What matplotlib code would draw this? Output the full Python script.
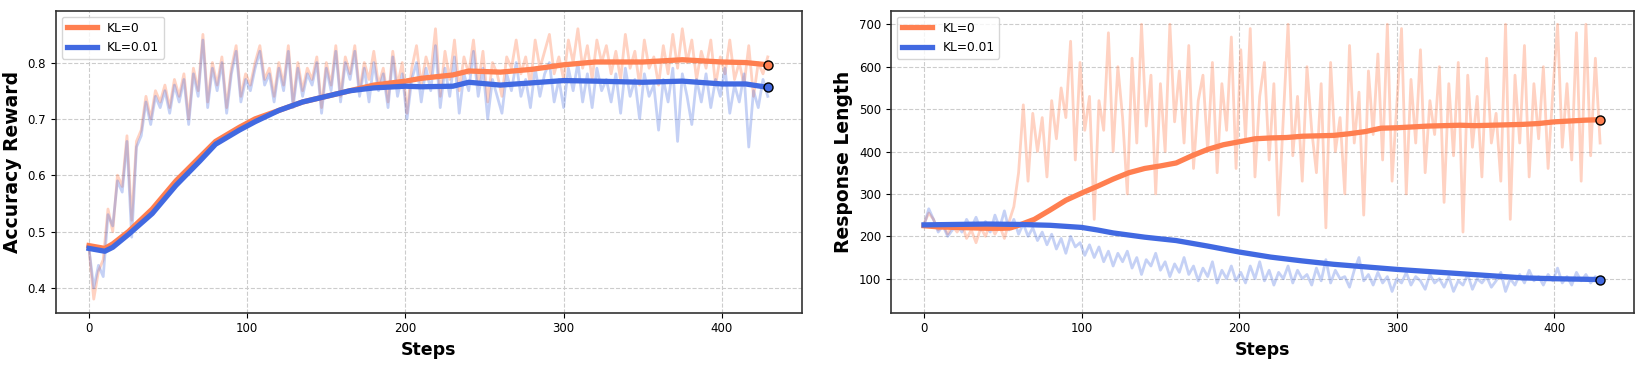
import numpy as np
import matplotlib.pyplot as plt

# raw values, one every 3 steps
acc_kl0 = [0.47, 0.38, 0.43, 0.45, 0.54, 0.50, 0.60, 0.58, 0.67, 0.52, 0.66, 0.68, 0.74, 0.70, 0.75, 0.73,
           0.76, 0.72, 0.77, 0.74, 0.78, 0.70, 0.79, 0.75, 0.85, 0.73, 0.80, 0.76, 0.81, 0.72, 0.79, 0.83,
           0.74, 0.78, 0.76, 0.80, 0.83, 0.77, 0.79, 0.74, 0.80, 0.76, 0.83, 0.73, 0.80, 0.75, 0.79, 0.77,
           0.81, 0.72, 0.80, 0.76, 0.83, 0.74, 0.81, 0.78, 0.83, 0.75, 0.80, 0.77, 0.82, 0.76, 0.79, 0.73,
           0.82, 0.76, 0.80, 0.71, 0.79, 0.83, 0.76, 0.81, 0.78, 0.86, 0.74, 0.82, 0.77, 0.84, 0.75, 0.81,
           0.78, 0.84, 0.76, 0.82, 0.73, 0.80, 0.78, 0.74, 0.81, 0.79, 0.84, 0.78, 0.81, 0.76, 0.84, 0.79,
           0.82, 0.85, 0.78, 0.81, 0.77, 0.84, 0.80, 0.86, 0.79, 0.83, 0.77, 0.84, 0.80, 0.83, 0.78, 0.82,
           0.77, 0.85, 0.79, 0.82, 0.76, 0.84, 0.79, 0.81, 0.76, 0.83, 0.78, 0.85, 0.79, 0.86, 0.80, 0.84,
           0.77, 0.82, 0.79, 0.84, 0.76, 0.81, 0.78, 0.84, 0.77, 0.80, 0.76, 0.83, 0.74, 0.80, 0.78, 0.81]
acc_kl001 = [0.47, 0.40, 0.44, 0.42, 0.53, 0.51, 0.59, 0.57, 0.66, 0.49, 0.65, 0.67, 0.73, 0.69, 0.74, 0.72,
             0.75, 0.71, 0.76, 0.73, 0.77, 0.69, 0.78, 0.74, 0.84, 0.72, 0.79, 0.75, 0.80, 0.71, 0.78, 0.82,
             0.73, 0.77, 0.75, 0.79, 0.82, 0.76, 0.78, 0.73, 0.79, 0.75, 0.82, 0.72, 0.79, 0.74, 0.78, 0.76,
             0.80, 0.71, 0.79, 0.75, 0.82, 0.73, 0.80, 0.77, 0.82, 0.74, 0.79, 0.73, 0.80, 0.75, 0.78, 0.72,
             0.81, 0.74, 0.78, 0.70, 0.77, 0.80, 0.73, 0.79, 0.75, 0.83, 0.72, 0.79, 0.74, 0.81, 0.71, 0.78,
             0.75, 0.82, 0.74, 0.79, 0.70, 0.77, 0.74, 0.71, 0.78, 0.75, 0.80, 0.74, 0.77, 0.72, 0.79, 0.74,
             0.78, 0.80, 0.73, 0.77, 0.72, 0.79, 0.75, 0.80, 0.73, 0.78, 0.72, 0.79, 0.75, 0.77, 0.73, 0.78,
             0.71, 0.79, 0.74, 0.77, 0.70, 0.78, 0.74, 0.76, 0.68, 0.77, 0.73, 0.79, 0.66, 0.78, 0.74, 0.69,
             0.77, 0.73, 0.78, 0.72, 0.77, 0.74, 0.79, 0.71, 0.76, 0.73, 0.78, 0.65, 0.75, 0.72, 0.77, 0.74]
len_kl0 = [230, 255, 240, 215, 230, 205, 225, 210, 230, 195, 215, 185, 220, 200, 230, 205,
           225, 195, 235, 270, 350, 510, 330, 490, 400, 480, 340, 520, 430, 550, 480, 660,
           380, 610, 450, 530, 240, 520, 450, 680, 400, 600, 480, 300, 620, 420, 700, 460,
           580, 300, 560, 400, 700, 470, 590, 420, 650, 360, 520, 580, 400, 610, 350, 560,
           450, 670, 360, 640, 430, 690, 340, 530, 610, 380, 560, 250, 480, 700, 390, 530,
           330, 600, 450, 350, 560, 220, 610, 400, 480, 300, 650, 420, 540, 250, 590, 440,
           630, 380, 700, 330, 510, 690, 300, 570, 420, 640, 350, 520, 440, 600, 280, 560,
           390, 610, 210, 580, 410, 530, 340, 620, 420, 490, 330, 700, 240, 580, 420, 650,
           340, 560, 430, 600, 360, 540, 700, 410, 560, 380, 680, 330, 700, 390, 620, 420]
len_kl001 = [225, 265, 240, 210, 225, 200, 215, 230, 210, 240, 220, 245, 215, 235, 210, 250,
             220, 260, 215, 240, 205, 230, 200, 220, 190, 210, 180, 205, 170, 195, 160, 200,
             175, 185, 155, 180, 150, 175, 140, 165, 130, 160, 140, 165, 125, 150, 110, 145,
             130, 160, 120, 140, 105, 135, 115, 150, 110, 130, 95, 125, 105, 140, 90, 120,
             100, 130, 95, 115, 90, 130, 100, 140, 95, 120, 85, 115, 100, 130, 90, 120,
             100, 110, 85, 125, 95, 145, 90, 120, 100, 105, 80, 120, 150, 95, 110, 85,
             115, 90, 105, 70, 100, 90, 115, 85, 105, 95, 75, 110, 90, 100, 80, 105,
             70, 95, 85, 110, 75, 100, 90, 105, 80, 95, 115, 70, 100, 85, 110, 90,
             120, 95, 105, 85, 110, 95, 125, 90, 105, 85, 115, 95, 110, 90, 105, 95]

# smoothed curves (step, value)
acc_s_steps = [0, 10, 15, 25, 40, 55, 70, 80, 95, 105, 120, 135, 150, 165, 180, 200, 210, 230, 240,
               260, 280, 300, 320, 350, 375, 400, 415, 429]
acc_s_kl0 = [0.475, 0.470, 0.478, 0.500, 0.540, 0.590, 0.632, 0.660, 0.685, 0.700, 0.715, 0.730, 0.740,
             0.750, 0.760, 0.767, 0.772, 0.778, 0.785, 0.783, 0.788, 0.796, 0.801, 0.801, 0.805, 0.801,
             0.800, 0.796]
acc_s_kl001 = [0.470, 0.465, 0.472, 0.495, 0.532, 0.582, 0.625, 0.655, 0.680, 0.695, 0.715, 0.730, 0.740,
               0.750, 0.755, 0.758, 0.757, 0.758, 0.765, 0.760, 0.764, 0.768, 0.767, 0.765, 0.767, 0.762,
               0.762, 0.756]
len_s_steps0 = [0, 10, 20, 30, 40, 50, 55, 60, 70, 80, 90, 100, 110, 120, 130, 140, 150, 160, 170, 180,
                190, 200, 210, 220, 230, 240, 250, 260, 270, 280, 290, 300, 310, 320, 330, 340, 350, 360,
                370, 380, 390, 400, 410, 420, 429]
len_s_kl0 = [225, 222, 221, 220, 219, 219, 220, 226, 240, 262, 285, 302, 318, 335, 350, 360, 366, 373,
             390, 405, 416, 423, 430, 432, 433, 436, 437, 438, 442, 447, 455, 456, 458, 460, 461, 462,
             461, 462, 463, 464, 466, 470, 472, 474, 475]
len_s_steps1 = [0, 20, 40, 60, 80, 100, 110, 120, 140, 160, 180, 200, 220, 240, 260, 280, 300, 320, 340,
                360, 380, 400, 415, 429]
len_s_kl001 = [227, 228, 229, 228, 226, 221, 215, 208, 198, 190, 177, 163, 151, 142, 134, 128, 122, 117,
               112, 107, 102, 100, 99, 98]

orange = '#FF7F50'
blue = '#4169E1'

fig = plt.figure(figsize=(16.45, 3.7), dpi=100)
ax1 = fig.add_axes([0.0339, 0.155, 0.4535, 0.816])
ax2 = fig.add_axes([0.5416, 0.155, 0.4517, 0.816])

panels = [
    (ax1, acc_kl0, acc_kl001, acc_s_steps, acc_s_kl0, acc_s_steps, acc_s_kl001, 'Accuracy Reward', (0.356, 0.892)),
    (ax2, len_kl0, len_kl001, len_s_steps0, len_s_kl0, len_s_steps1, len_s_kl001, 'Response Length', (20, 732)),
]

for ax, raw0, raw1, s0x, s0y, s1x, s1y, ylab, ylim in panels:
    ax.plot(np.arange(len(raw0)) * 3, raw0, color=orange, alpha=0.35, linewidth=2)
    ax.plot(np.arange(len(raw1)) * 3, raw1, color=blue, alpha=0.3, linewidth=2)
    ax.plot(s0x, s0y, color=orange, linewidth=3.8, label='KL=0')
    ax.plot(s1x, s1y, color=blue, linewidth=3.8, label='KL=0.01')
    ax.plot(s0x[-1], s0y[-1], 'o', color=orange, markeredgecolor='black', markersize=6.5)
    ax.plot(s1x[-1], s1y[-1], 'o', color=blue, markeredgecolor='black', markersize=6.5)
    ax.set_xlim(-21, 450.5)
    ax.set_ylim(*ylim)
    ax.set_xticks([0, 100, 200, 300, 400])
    ax.grid(True, linestyle='--', color='#cccccc', linewidth=0.8)
    ax.tick_params(labelsize=8.5)
    ax.set_xlabel('Steps', fontsize=12.5, fontweight='bold')
    ax.set_ylabel(ylab, fontsize=13.5, fontweight='bold')
    for sp in ax.spines.values():
        sp.set_color('#333333')
        sp.set_linewidth(1.2)
    ax.legend(loc='upper left', fontsize=8.8, handlelength=2.5)

fig.savefig('out.png', dpi=100)
